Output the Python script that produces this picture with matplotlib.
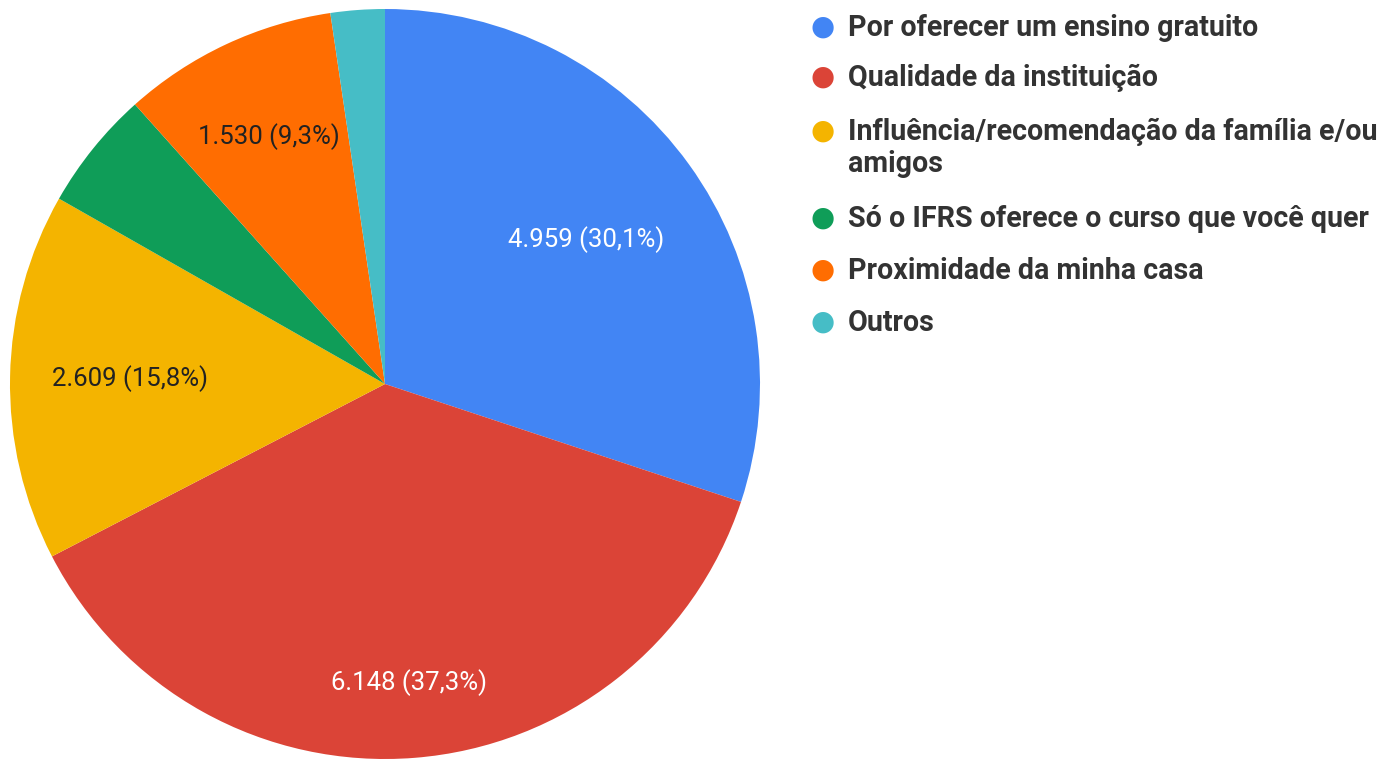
import numpy as np
import matplotlib
matplotlib.use("Agg")
import matplotlib.pyplot as plt

categories = [
    "Por oferecer um ensino gratuito",
    "Qualidade da instituição",
    "Influência/recomendação da família e/ou\namigos",
    "Só o IFRS oferece o curso que você quer",
    "Proximidade da minha casa",
    "Outros",
]
values = [4959, 6148, 2609, 850, 1530, 384]
show_label = [True, True, True, False, True, False]

colors = ["#4285F4", "#DB4437", "#F4B400", "#0F9D58", "#FF6D01", "#46BDC6"]
label_colors = ["white", "white", "#222222", "#222222", "#222222", "#222222"]
label_radius = [0.66, 0.80, 0.68, 0.7, 0.73, 0.7]

plt.rcParams['font.family'] = ['Roboto', 'DejaVu Sans']

fig = plt.figure(figsize=(13.9, 7.59), dpi=100)
ax = fig.add_axes([10 / 1390, 0.0, 750 / 1390, 750 / 759])
wedges, _ = ax.pie(values, colors=colors, startangle=90, counterclock=False,
                   radius=1.0, wedgeprops=dict(linewidth=0))
ax.set_xlim(-1, 1)
ax.set_ylim(-1, 1)
ax.set_aspect("equal")

total = sum(values)
for w, v, show, col, r in zip(wedges, values, show_label, label_colors, label_radius):
    if not show:
        continue
    ang = np.deg2rad((w.theta1 + w.theta2) / 2)
    pct = v / total * 100
    txt = f"{v:,}".replace(",", ".") + f" ({pct:.1f}%)".replace(".", ",")
    ax.text(r * np.cos(ang), r * np.sin(ang), txt, ha="center", va="center",
            color=col, fontsize=18.5)

# legend
marker_rows = [27, 77, 131, 218, 270, 322]
for cat, c, yy in zip(categories, colors, marker_rows):
    fig.text(823 / 1390, 1 - yy / 759, "●", color=c, fontsize=20, ha="center", va="center",
             family=['DejaVu Sans'])
    for i, line in enumerate(cat.split("\n")):
        base = yy + 9 + 32 * i
        fig.text(848 / 1390, 1 - base / 759, line, color="#333333", fontsize=20.6,
                 fontweight="bold", ha="left", va="baseline")

fig.savefig("out.png", dpi=100, facecolor="white")
